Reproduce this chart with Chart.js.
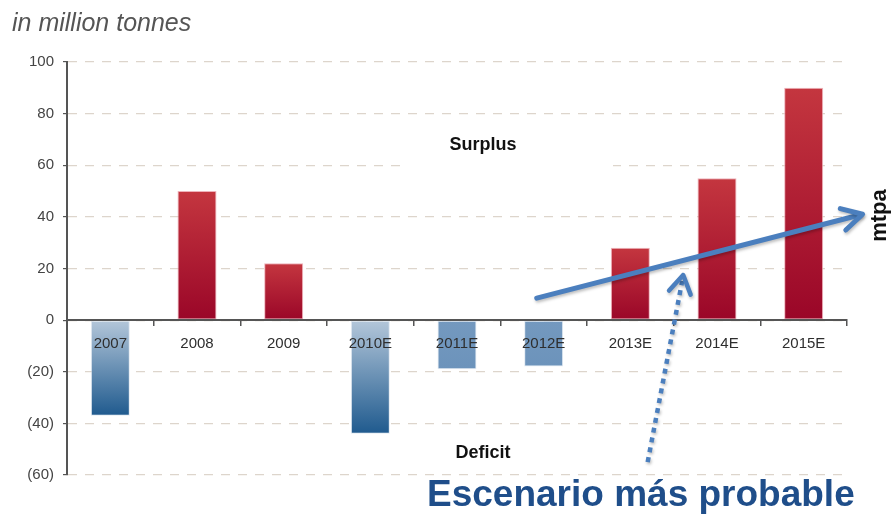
<!DOCTYPE html>
<html>
<head>
<meta charset="utf-8">
<script src="https://cdn.jsdelivr.net/npm/chart.js@4"></script>
<style>
  html, body { margin: 0; padding: 0; background: #ffffff; }
  #wrap { width: 892px; height: 515px; }
</style>
</head>
<body>
<div id="wrap"><canvas id="c" width="892" height="515"></canvas></div>
<script>
// ---------- data ----------
const categories = ['2007', '2008', '2009', '2010E', '2011E', '2012E', '2013E', '2014E', '2015E'];
const balance = [-37, 50, 22, -44, -19, -18, 28, 55, 90];
const yTickValues = [-60, -40, -20, 0, 20, 40, 60, 80, 100];
const yTickLabels = ['(60)', '(40)', '(20)', '0', '20', '40', '60', '80', '100'];
const titleText = 'in million tonnes';
const surplusText = 'Surplus';
const deficitText = 'Deficit';
const unitText = 'mtpa';
const scenarioText = 'Escenario más probable';

// ---------- styles ----------
const fillTop = ['#b4c7da', '#c4363f', '#c4363f', '#b4c7da', '#7499bf', '#7499bf', '#c4363f', '#c4363f', '#c4363f'];
const fillBottom = ['#1f5a8e', '#9a0628', '#9a0628', '#1f5a8e', '#6c93bb', '#6c93bb', '#9a0628', '#9a0628', '#9a0628'];
const FONT = '"Liberation Sans", Arial, sans-serif';
const arrowBlue = '#4b7fbe';

function barFill(ctx) {
  const chart = ctx.chart;
  if (!chart.chartArea || ctx.type !== 'data') return fillTop[ctx.dataIndex] || '#999';
  const ys = chart.scales.y;
  const i = ctx.dataIndex;
  const p0 = ys.getPixelForValue(0);
  const p1 = ys.getPixelForValue(balance[i]);
  const top = Math.min(p0, p1), bot = Math.max(p0, p1);
  const g = chart.ctx.createLinearGradient(0, top, 0, bot);
  g.addColorStop(0, fillTop[i]);
  g.addColorStop(1, fillBottom[i]);
  return g;
}

const annotations = {
  id: 'annotations',
  beforeDatasetsDraw(chart) {
    const {ctx, scales: {x, y}} = chart;
    // white label box behind "Surplus" interrupting the grid
    ctx.save();
    ctx.fillStyle = '#ffffff';
    const bx0 = x.getPixelForValue(3.4), bx1 = x.getPixelForValue(5.8);
    ctx.fillRect(bx0, y.getPixelForValue(64), bx1 - bx0, y.getPixelForValue(56) - y.getPixelForValue(64));
    ctx.restore();
  },
  afterDraw(chart) {
    const {ctx, scales: {x, y}} = chart;
    ctx.save();
    // title
    ctx.fillStyle = '#555555';
    ctx.font = 'italic 25px ' + FONT;
    ctx.textAlign = 'left';
    ctx.textBaseline = 'alphabetic';
    ctx.fillText(titleText, 12, 31);

    // Surplus / Deficit
    ctx.fillStyle = '#111111';
    ctx.font = 'bold 18px ' + FONT;
    ctx.textAlign = 'center';
    ctx.textBaseline = 'middle';
    ctx.fillText(surplusText, x.getPixelForValue(4.3), y.getPixelForValue(68));
    ctx.fillText(deficitText, x.getPixelForValue(4.3), y.getPixelForValue(-51.5));

    // mtpa rotated
    ctx.save();
    ctx.translate(886, y.getPixelForValue(40.5));
    ctx.rotate(-Math.PI / 2);
    ctx.font = 'bold 22px ' + FONT;
    ctx.textAlign = 'center';
    ctx.textBaseline = 'alphabetic';
    ctx.fillText(unitText, 0, 0);
    ctx.restore();

    // main trend arrow
    ctx.shadowColor = 'rgba(0,0,0,0.25)';
    ctx.shadowBlur = 3;
    ctx.shadowOffsetX = 1;
    ctx.shadowOffsetY = 2;
    ctx.strokeStyle = arrowBlue;
    ctx.lineWidth = 5;
    ctx.lineCap = 'round';
    ctx.lineJoin = 'round';
    const ax0 = x.getPixelForValue(4.92), ay0 = y.getPixelForValue(8.5);
    const ax1 = x.getPixelForValue(8.68), ay1 = y.getPixelForValue(41);
    ctx.beginPath();
    ctx.moveTo(ax0, ay0);
    ctx.lineTo(ax1 - 2, ay1 + 0.5);
    ctx.stroke();
    const ang = Math.atan2(ay1 - ay0, ax1 - ax0);
    const L = 23, w = 0.5;
    ctx.beginPath();
    ctx.moveTo(ax1 - L * Math.cos(ang - w), ay1 - L * Math.sin(ang - w));
    ctx.lineTo(ax1, ay1);
    ctx.lineTo(ax1 - L * Math.cos(ang + w), ay1 - L * Math.sin(ang + w));
    ctx.stroke();

    // dotted pointer arrow
    const dx0 = x.getPixelForValue(6.2), dy0 = y.getPixelForValue(-55);
    const dx1 = x.getPixelForValue(6.61), dy1 = y.getPixelForValue(17.5);
    ctx.lineWidth = 4.5;
    ctx.lineCap = 'butt';
    ctx.setLineDash([5, 5]);
    ctx.beginPath();
    ctx.moveTo(dx0, dy0);
    ctx.lineTo(dx1 - 1, dy1 + 6);
    ctx.stroke();
    ctx.setLineDash([]);
    ctx.lineCap = 'round';
    const ang2 = Math.atan2(dy1 - dy0, dx1 - dx0);
    const L2 = 21, w2 = 0.55;
    ctx.beginPath();
    ctx.moveTo(dx1 - L2 * Math.cos(ang2 - w2), dy1 - L2 * Math.sin(ang2 - w2));
    ctx.lineTo(dx1, dy1);
    ctx.lineTo(dx1 - L2 * Math.cos(ang2 + w2), dy1 - L2 * Math.sin(ang2 + w2));
    ctx.stroke();
    ctx.shadowColor = 'transparent';

    // scenario caption
    ctx.fillStyle = '#1f4e8a';
    ctx.font = 'bold 37px ' + FONT;
    ctx.textAlign = 'left';
    ctx.textBaseline = 'alphabetic';
    ctx.fillText(scenarioText, 427, 506);
    ctx.restore();
  }
};

new Chart(document.getElementById('c'), {
  type: 'bar',
  data: {
    labels: categories,
    datasets: [{
      data: balance,
      backgroundColor: barFill,
      borderColor: (c) => balance[c.dataIndex] >= 0 ? 'rgba(236,170,178,0.9)' : 'rgba(205,218,232,0.6)',
      borderWidth: 1,
      borderSkipped: false,
      barPercentage: 0.45,
      categoryPercentage: 1.0
    }]
  },
  options: {
    responsive: false,
    animation: false,
    events: [],
    layout: { padding: { left: 0, right: 45, top: 62, bottom: 40 } },
    plugins: { legend: { display: false }, title: { display: false }, tooltip: { enabled: false } },
    scales: {
      x: {
        position: { y: 0 },
        grid: { display: true, drawOnChartArea: false, drawTicks: true, tickLength: 5, color: '#555555', lineWidth: 1.5, z: 1 },
        border: { display: true, color: '#555555', width: 2, z: 1 },
        ticks: { z: 1, color: '#2e2e2e', font: { family: FONT, size: 15 }, padding: 10, maxRotation: 0, autoSkip: false }
      },
      y: {
        min: -60,
        max: 100,
        afterFit: (s) => { s.width = 67; },
        afterBuildTicks: (s) => { s.ticks = yTickValues.map(v => ({ value: v })); },
        grid: { color: '#ddd5cc', lineWidth: 1.2, tickLength: 4, tickColor: '#555555', drawTicks: true },
        border: { display: true, color: '#555555', width: 2, dash: [9, 8] },
        ticks: {
          color: '#444444',
          font: { family: FONT, size: 15 },
          padding: 9,
          callback: (v) => yTickLabels[yTickValues.indexOf(v)]
        }
      }
    }
  },
  plugins: [annotations]
});
</script>
</body>
</html>
